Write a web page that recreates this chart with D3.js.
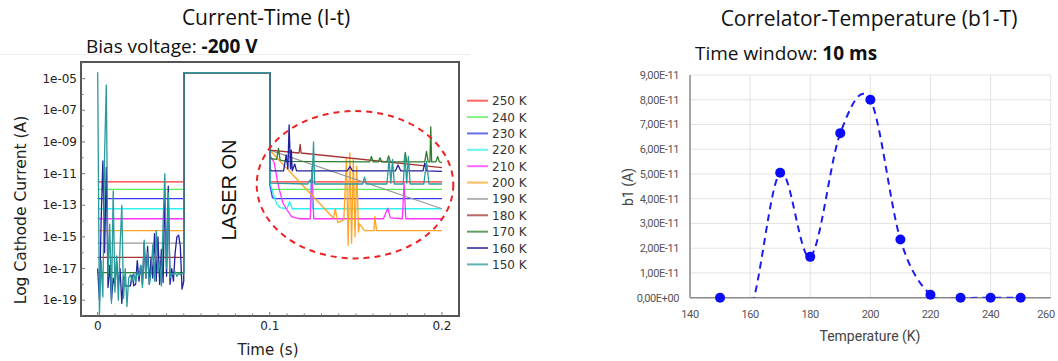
<!DOCTYPE html>
<html>
<head>
<meta charset="utf-8">
<script src="https://cdn.jsdelivr.net/npm/d3@7"></script>
<style>
  body { margin: 0; background: #fff; }
  svg { display: block; }
  .ttl { font-family: "Open Sans", sans-serif; fill: #111; }
  .tick-l { font-family: "DejaVu Sans", sans-serif; font-size: 12px; fill: #222; }
  .tick-r { font-family: "Liberation Sans Narrow", "Roboto", sans-serif; font-size: 11px; fill: #555; letter-spacing: -0.4px; }
</style>
</head>
<body>
<svg id="chart" width="1058" height="361"></svg>
<script>
// ---- left panel: I-t traces (one per temperature) ----
const temps = [250, 240, 230, 220, 210, 200, 190, 180, 170, 160, 150];
const traceColors = ["#ff3030", "#55ee55", "#3a3af0", "#2ef0f0", "#ff33ff", "#ffa425",
                     "#999999", "#a83232", "#2e7d2e", "#1f1f9c", "#2a9a9a"];
// flat pre-laser level (A); null = noisy trace below
const preLevels = [3e-12, 1e-12, 2.6e-13, 6e-14, 1.4e-14, 2.5e-15, 4e-16, 5e-17, 5.5e-18, null, null];
const laserLevel = 2.4e-5;
const laserStart = 0.05, laserEnd = 0.1;

// noisy pre-laser samples, every 1 ms from 0 to 50 ms
const noise160 = [1e-17, 1e-19, 1e-14, 6.3e-11, 1e-16, 2.5e-11, 6.3e-19, 1.6e-17, 1e-19, 2.5e-18,
  8e-19, 3.2e-17, 8e-19, 1e-17, 6.3e-20, 3.2e-18, 8e-19, 8e-19, 8e-19, 8e-19,
  4e-18, 8e-19, 1e-18, 3.2e-17, 1.6e-18, 1.6e-17, 1e-18, 4e-16, 2.5e-18, 2.5e-16,
  1e-18, 5e-17, 2.5e-18, 1.6e-15, 1.6e-18, 1e-15, 1e-18, 1.6e-16, 1.3e-18, 1e-12,
  3.2e-18, 1.6e-12, 1e-18, 1e-17, 1.6e-18, 1e-16, 1e-15, 1.3e-15, 2.5e-16, 5e-19, 1.6e-18];
const noise150 = [2.5e-5, 1.3e-20, 3.2e-17, 1.6e-19, 1.6e-10, 4e-6, 3.2e-18, 6.3e-15, 6.3e-20, 8e-13,
  3.2e-19, 6.3e-17, 1e-19, 2.5e-16, 1e-13, 1.3e-19, 1e-17, 4e-20, 2.5e-18, 4e-18,
  1.6e-18, 5e-18, 1.3e-18, 6.3e-18, 3.2e-18, 1.6e-17, 6.3e-19, 6.3e-16, 2.5e-18, 1e-16,
  1e-18, 5e-18, 3.2e-16, 1.6e-18, 2.5e-15, 6.3e-18, 2.5e-17, 8e-19, 8e-15, 1e-11,
  1e-17, 6.3e-13, 2.5e-18, 5e-18, 4e-18, 6.3e-18, 3.2e-18, 5e-18, 4e-18, 5e-18, 5e-18];

// post-laser traces [time s, current A]
const post250 = [[0.1, 3e-12], [0.2, 3e-12]];
const post240 = [[0.1, 2e-12], [0.101, 1e-12], [0.2, 1e-12]];
const post230 = [[0.1, 2e-12], [0.1015, 3e-13], [0.103, 2.6e-13], [0.2, 2.6e-13]];
const post220 = [[0.1, 3e-12], [0.102, 5e-13], [0.104, 1.2e-13], [0.106, 7e-14], [0.11, 6e-14],
  [0.1115, 1.7e-13], [0.113, 6e-14], [0.1235, 6e-14], [0.124, 5e-12], [0.1248, 6e-14], [0.2, 6e-14]];
const post210 = [[0.1, 1.5e-10], [0.1025, 5e-11], [0.105, 1.6e-12], [0.1075, 1.5e-13], [0.11, 5e-14],
  [0.1125, 2e-14], [0.115, 1.6e-14], [0.1175, 1.4e-14], [0.1235, 1.4e-14], [0.1245, 3e-11],
  [0.1255, 1.4e-14], [0.166, 1.4e-14], [0.1685, 6.5e-14], [0.170, 1.6e-14], [0.177, 1.4e-14],
  [0.178, 2.5e-12], [0.179, 1.4e-14], [0.2, 1.4e-14]];
const post200 = [[0.1, 3e-10], [0.137, 1.5e-14], [0.138, 6e-14], [0.1395, 8e-15], [0.143, 1.2e-14],
  [0.1445, 1e-10], [0.1455, 3e-16], [0.1465, 2e-10], [0.1475, 4e-16], [0.1485, 8e-11],
  [0.1495, 1e-15], [0.1505, 3e-11], [0.1515, 2e-15], [0.152, 7e-15], [0.155, 2.5e-15],
  [0.1605, 2.5e-15], [0.161, 2e-14], [0.162, 2.5e-15], [0.2, 2.5e-15]];
const post190 = [[0.1, 3e-10], [0.2, 6e-14]];
const post180 = [[0.1, 3e-10], [0.117, 2e-10], [0.1176, 7e-10], [0.1182, 2e-10], [0.2, 2.4e-11]];
const post170 = [[0.1, 9e-11], [0.104, 8e-11], [0.105, 4e-10], [0.106, 7e-11], [0.11, 6e-11],
  [0.158, 5.5e-11], [0.159, 1.2e-10], [0.160, 5.5e-11], [0.163, 5.5e-11], [0.164, 1e-10],
  [0.165, 5.5e-11], [0.168, 5.5e-11], [0.169, 1.3e-10], [0.170, 5.5e-11], [0.178, 5.5e-11],
  [0.1787, 2.2e-10], [0.1795, 5.5e-11], [0.190, 5.5e-11], [0.191, 2.5e-10], [0.192, 5.5e-11],
  [0.193, 5.5e-11], [0.1935, 9e-9], [0.194, 5.5e-11], [0.1965, 5.5e-11], [0.1975, 1.2e-10],
  [0.1985, 5.5e-11], [0.2, 5e-11]];
const post160 = [[0.1, 2e-11], [0.101, 1.5e-11], [0.108, 1.5e-11], [0.1095, 1.5e-10], [0.1105, 2e-11],
  [0.1112, 1.2e-8], [0.112, 2e-11], [0.1125, 3e-10], [0.113, 1.5e-11], [0.1145, 4e-11],
  [0.1155, 1.5e-11], [0.145, 1.5e-11], [0.1466, 2.8e-11], [0.148, 1.5e-11], [0.173, 1.5e-11],
  [0.1745, 3.5e-11], [0.176, 1.5e-11], [0.189, 1.5e-11], [0.190, 4.5e-11], [0.191, 1.5e-11],
  [0.2, 1.4e-11]];
const post150 = [[0.1, 2.5e-12], [0.122, 2.2e-12], [0.1234, 4e-12], [0.1245, 2.2e-12], [0.1254, 1e-9],
  [0.126, 2.2e-12], [0.154, 2.2e-12], [0.155, 6e-12], [0.156, 2.2e-12], [0.168, 2.2e-12],
  [0.1693, 8e-11], [0.1703, 2.5e-12], [0.1713, 8e-11], [0.1723, 2.2e-12], [0.1775, 2.2e-12],
  [0.1785, 1.5e-10], [0.1795, 2.5e-12], [0.1805, 1.2e-10], [0.1815, 2.2e-12], [0.1895, 2.2e-12],
  [0.191, 6e-11], [0.1925, 2.2e-12], [0.2, 2.2e-12]];
const postTraces = [post250, post240, post230, post220, post210, post200, post190, post180, post170, post160, post150];
const noisyTraces = { 160: noise160, 150: noise150 };

const yTicksLeft = [1e-5, 1e-7, 1e-9, 1e-11, 1e-13, 1e-15, 1e-17, 1e-19];
const xTicksLeft = [0, 0.1, 0.2];

// ---- right panel: b1 vs temperature ----
const b1Temps = [150, 160, 170, 180, 190, 200, 210, 220, 230, 240, 250];
const b1Values = [0, -0.5e-11, 5.05e-11, 1.65e-11, 6.65e-11, 8.0e-11, 2.35e-11, 0.12e-11, 0, 0, 0];
const b1YTicks = [0, 1e-11, 2e-11, 3e-11, 4e-11, 5e-11, 6e-11, 7e-11, 8e-11, 9e-11];
const b1XTicks = [140, 160, 180, 200, 220, 240, 260];

const svg = d3.select("#chart");

// ================= LEFT =================
const L = { left: 81, right: 459, top: 62, bottom: 316 };
const x = d3.scaleLinear().domain([-0.0097, 0.2099]).range([L.left, L.right]);
const y = d3.scaleLog().domain([1e-20, 1.13e-4]).range([L.bottom, L.top]);

svg.append("line").attr("x1", 0).attr("x2", 470).attr("y1", 54.5).attr("y2", 54.5)
  .attr("stroke", "#eeeeee");

svg.append("text").attr("class", "ttl").attr("x", 266).attr("y", 25)
  .attr("text-anchor", "middle").style("font-size", "21px").text("Current-Time (I-t)");
const bias = svg.append("text").attr("class", "ttl").attr("x", 86).attr("y", 53)
  .style("font-size", "19px");
bias.append("tspan").text("Bias voltage: ");
bias.append("tspan").style("font-weight", "bold").text("-200 V");

svg.append("defs").append("clipPath").attr("id", "clipL").append("rect")
  .attr("x", L.left).attr("y", L.top).attr("width", L.right - L.left).attr("height", L.bottom - L.top);

const line = d3.line().x(d => x(d[0])).y(d => y(d[1]));
const gTraces = svg.append("g").attr("clip-path", "url(#clipL)");
temps.forEach((T, i) => {
  let pre;
  if (preLevels[i] != null) pre = [[0, preLevels[i]], [laserStart, preLevels[i]]];
  else pre = d3.range(0, 51).map(k => [k * 0.001, noisyTraces[T][k]]);
  const pts = pre.concat([[laserStart, laserLevel], [laserEnd, laserLevel]], postTraces[i]);
  gTraces.append("path").attr("d", line(pts)).attr("fill", "none")
    .attr("stroke", traceColors[i]).attr("stroke-width", 1.3).attr("stroke-linejoin", "round");
});

// frame + ticks
svg.append("rect").attr("x", L.left).attr("y", L.top).attr("width", L.right - L.left)
  .attr("height", L.bottom - L.top).attr("fill", "none").attr("stroke", "#555").attr("stroke-width", 2);
const yMinor = d3.range(-20, -3).map(e => Math.pow(10, e));
svg.append("g").selectAll("line").data(yMinor).join("line")
  .attr("x1", L.left).attr("x2", d => L.left + (yTicksLeft.includes(d) ? 4 : 2.5))
  .attr("y1", d => y(d)).attr("y2", d => y(d)).attr("stroke", "#777");
svg.append("g").selectAll("text").data(yTicksLeft).join("text").attr("class", "tick-l")
  .attr("x", L.left - 4).attr("y", d => y(d) + 4).attr("text-anchor", "end")
  .text(d => "1e-" + String(-Math.round(Math.log10(d))).padStart(2, "0"));
svg.append("g").selectAll("line").data(d3.range(0, 21)).join("line")
  .attr("x1", k => x(k * 0.01)).attr("x2", k => x(k * 0.01))
  .attr("y1", L.bottom).attr("y2", k => L.bottom - (k % 10 === 0 ? 4 : 2.5)).attr("stroke", "#777");
svg.append("g").selectAll("text").data(xTicksLeft).join("text").attr("class", "tick-l")
  .attr("x", d => x(d)).attr("y", 330).attr("text-anchor", "middle").text(d => d);

svg.append("text").attr("x", 268).attr("y", 355).attr("text-anchor", "middle")
  .style("font-family", "DejaVu Sans").style("font-size", "15px").attr("fill", "#222").text("Time (s)");
svg.append("text").attr("transform", "translate(26,210) rotate(-90)").attr("text-anchor", "middle")
  .style("font-family", "DejaVu Sans").style("font-size", "15.5px").attr("fill", "#222")
  .text("Log Cathode Current (A)");

svg.append("text").attr("transform", "translate(236,190) rotate(-90)").attr("text-anchor", "middle")
  .style("font-family", "Liberation Sans").style("font-size", "20px").attr("fill", "#111").text("LASER ON");

svg.append("ellipse").attr("cx", 355).attr("cy", 184.7).attr("rx", 98.3).attr("ry", 73.7)
  .attr("fill", "none").attr("stroke", "#ee2222").attr("stroke-width", 2).attr("stroke-dasharray", "6,5");

// legend
const leg = svg.append("g").selectAll("g").data(temps).join("g")
  .attr("transform", (d, i) => `translate(467,${100.7 + i * 16.37})`);
leg.append("line").attr("x1", 0).attr("x2", 21).attr("stroke", (d, i) => traceColors[i])
  .attr("stroke-width", 2).attr("stroke-opacity", 0.75);
leg.append("text").attr("x", 25).attr("y", 4.5).style("font-family", "DejaVu Sans")
  .style("font-size", "12px").attr("fill", "#333").text(d => d + " K");

// ================= RIGHT =================
const R = { left: 690, right: 1050.7, top: 75, bottom: 297.7 };
const xr = d3.scaleLinear().domain([140, 260]).range([R.left, R.right]);
const yr = d3.scaleLinear().domain([0, 9e-11]).range([R.bottom, R.top]);

svg.append("text").attr("class", "ttl").attr("x", 869).attr("y", 26)
  .attr("text-anchor", "middle").style("font-size", "21px").text("Correlator-Temperature (b1-T)");
const tw = svg.append("text").attr("class", "ttl").attr("x", 695).attr("y", 60)
  .style("font-size", "19px");
tw.append("tspan").text("Time window: ");
tw.append("tspan").style("font-weight", "bold").text("10 ms");

svg.append("g").selectAll("line").data(b1YTicks.slice(1)).join("line")
  .attr("x1", R.left).attr("x2", R.right).attr("y1", d => yr(d)).attr("y2", d => yr(d))
  .attr("stroke", "#e3e3e3");
svg.append("g").selectAll("line").data(b1XTicks.slice(1)).join("line")
  .attr("x1", d => xr(d)).attr("x2", d => xr(d)).attr("y1", R.top).attr("y2", R.bottom)
  .attr("stroke", "#e3e3e3");
svg.append("line").attr("x1", R.left).attr("x2", R.left).attr("y1", R.top).attr("y2", R.bottom)
  .attr("stroke", "#8a8a8a").attr("stroke-width", 1.5);
svg.append("line").attr("x1", R.left).attr("x2", R.right).attr("y1", R.bottom).attr("y2", R.bottom)
  .attr("stroke", "#8a8a8a").attr("stroke-width", 1.5);

svg.append("g").selectAll("text").data(b1YTicks).join("text").attr("class", "tick-r")
  .attr("x", 679).attr("y", d => yr(d) + 4).attr("text-anchor", "end")
  .text(d => d === 0 ? "0,00E+00" : (d / 1e-11).toFixed(2).replace(".", ",") + "E-11");
svg.append("g").selectAll("text").data(b1XTicks).join("text").attr("class", "tick-r")
  .attr("x", d => Math.min(xr(d), 1046)).attr("y", 318).attr("text-anchor", "middle").text(d => d);

svg.append("text").attr("x", 870).attr("y", 341).attr("text-anchor", "middle")
  .style("font-family", "Liberation Sans Narrow, Roboto, sans-serif").style("font-size", "14px")
  .attr("fill", "#444").text("Temperature (K)");
svg.append("text").attr("transform", "translate(633,187) rotate(-90)").attr("text-anchor", "middle")
  .style("font-family", "Liberation Sans Narrow, Roboto, sans-serif").style("font-size", "14px")
  .attr("fill", "#444").text("b1 (A)");

svg.select("defs").append("clipPath").attr("id", "clipR").append("rect")
  .attr("x", R.left).attr("y", R.top - 10).attr("width", R.right - R.left).attr("height", R.bottom - R.top + 10);

const b1Pts = b1Temps.map((t, i) => [t, b1Values[i]]);
const curve = d3.line().x(d => xr(d[0])).y(d => yr(d[1])).curve(d3.curveCardinal.tension(0));
svg.append("path").attr("d", curve(b1Pts)).attr("clip-path", "url(#clipR)")
  .attr("fill", "none").attr("stroke", "#1c1cf0").attr("stroke-width", 2).attr("stroke-dasharray", "7,5");
svg.append("g").selectAll("circle").data(b1Pts.filter(d => d[1] >= 0)).join("circle")
  .attr("cx", d => xr(d[0])).attr("cy", d => yr(d[1])).attr("r", 5).attr("fill", "#0b0bf5");
</script>
</body>
</html>
